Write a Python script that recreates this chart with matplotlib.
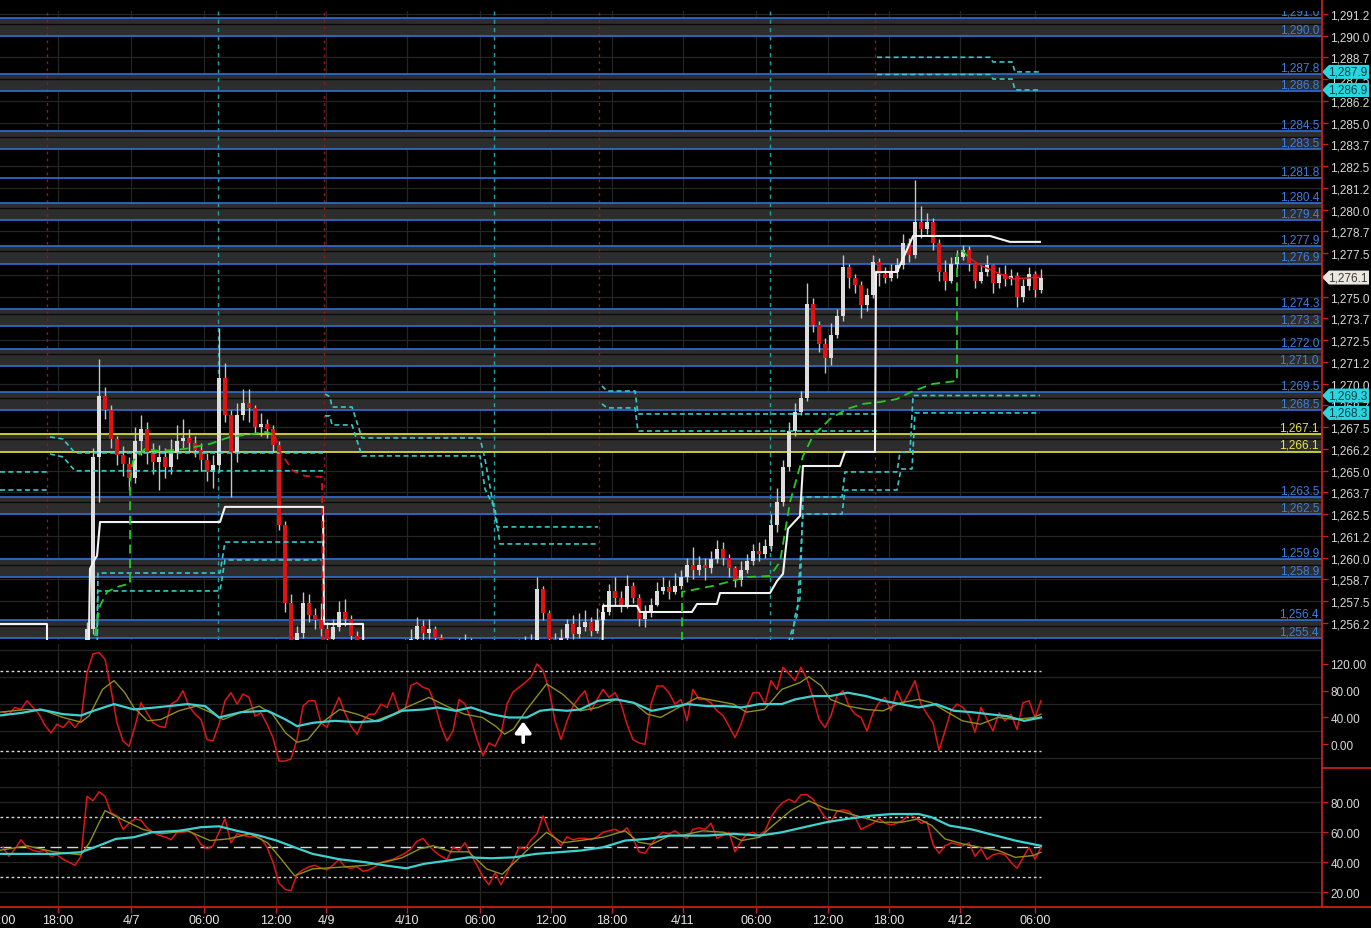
import numpy as np
import matplotlib
matplotlib.use("Agg")
import matplotlib.pyplot as plt
from matplotlib import transforms
from matplotlib.lines import Line2D
from matplotlib.patches import Polygon

plt.rcParams['font.family'] = ['Liberation Sans', 'DejaVu Sans']

# ---------------- price bars (30 min) ----------------
open_first = 1253.0
closes = [1253.2, 1253.5, 1253.1, 1252.8, 1253.0, 1253.4, 1253.6, 1253.2, 1252.7, 1252.4,
          1252.9, 1253.3, 1253.0, 1253.6, 1255.9, 1265.8, 1269.3, 1268.5, 1266.8, 1265.9,
          1265.4, 1264.6, 1266.7, 1267.4, 1266.1, 1265.5, 1265.8, 1265.2, 1266.0, 1266.7,
          1266.9, 1266.6, 1266.2, 1265.6, 1264.9, 1265.3, 1270.3, 1268.2, 1266.0, 1268.2,
          1268.9, 1268.6, 1267.5, 1267.7, 1267.4, 1266.5, 1261.9, 1257.4, 1254.8, 1255.7,
          1257.4, 1256.7, 1256.4, 1255.9, 1255.3, 1256.0, 1256.9, 1256.5, 1255.5, 1255.0,
          1254.4, 1254.1, 1253.8, 1254.0, 1254.3, 1254.6, 1254.2, 1254.9, 1255.3, 1256.1,
          1255.7, 1255.9, 1255.4, 1254.8, 1254.5, 1254.7, 1254.9, 1255.2, 1254.8, 1254.4,
          1254.0, 1253.7, 1253.5, 1253.9, 1254.2, 1254.6, 1254.9, 1255.1, 1255.0, 1258.2,
          1256.8, 1255.3, 1255.1, 1255.4, 1256.2, 1255.6, 1256.0, 1256.3, 1255.8, 1256.4,
          1256.9, 1258.1, 1257.7, 1257.3, 1258.4, 1257.7, 1256.5, 1256.9, 1257.3, 1258.1,
          1258.3, 1258.0, 1258.4, 1258.9, 1259.6, 1259.3, 1259.6, 1259.4, 1259.9, 1260.5,
          1260.0, 1259.4, 1258.7, 1259.3, 1259.8, 1260.4, 1260.2, 1260.7, 1261.9, 1263.2,
          1265.2, 1267.3, 1268.4, 1269.2, 1274.6, 1273.4, 1272.3, 1271.5, 1272.8, 1273.9,
          1276.7, 1276.1, 1275.7, 1274.5, 1275.1, 1277.0, 1276.3, 1276.1, 1276.4, 1276.8,
          1278.1, 1277.4, 1279.3, 1278.9, 1279.3, 1278.1, 1276.4, 1275.9, 1276.9, 1277.3,
          1277.7, 1276.9, 1275.9, 1276.4, 1276.8, 1275.8, 1276.3, 1276.0, 1276.2, 1275.0,
          1275.6, 1276.3, 1275.4, 1276.1]
highs = [1253.8, 1254.0, 1253.7, 1253.3, 1253.5, 1253.9, 1254.1, 1253.8, 1253.3, 1252.9,
         1253.4, 1253.8, 1253.6, 1254.0, 1256.3, 1266.3, 1271.4, 1269.8, 1268.8, 1267.0,
         1266.4, 1265.8, 1267.5, 1268.2, 1267.8, 1266.6, 1266.5, 1266.3, 1266.8, 1267.6,
         1268.0, 1267.4, 1267.0, 1266.6, 1266.0, 1265.9, 1273.2, 1271.2, 1268.5, 1268.9,
         1269.7, 1269.7, 1268.8, 1268.3, 1268.0, 1267.6, 1266.7, 1262.1, 1257.9, 1256.1,
         1258.0, 1257.9, 1257.1, 1257.4, 1256.3, 1256.5, 1257.5, 1257.6, 1256.7, 1255.8,
         1255.1, 1254.6, 1254.4, 1254.5, 1254.8, 1255.0, 1254.9, 1255.3, 1255.9, 1256.6,
         1256.4, 1256.5, 1256.1, 1255.6, 1255.0, 1255.2, 1255.4, 1255.6, 1255.4, 1255.0,
         1254.6, 1254.2, 1254.0, 1254.3, 1254.7, 1255.0, 1255.3, 1255.5, 1255.6, 1258.9,
         1258.4, 1257.0, 1255.7, 1255.9, 1256.5, 1256.7, 1256.8, 1257.0, 1256.6, 1257.1,
         1257.4, 1258.5, 1258.9, 1258.1, 1259.0, 1258.6, 1257.9, 1257.3, 1257.7, 1258.6,
         1258.9, 1258.7, 1259.1, 1259.3, 1260.0, 1260.6, 1260.1, 1260.0, 1260.4, 1261.0,
         1260.9, 1260.2, 1259.5, 1259.8, 1260.2, 1260.8, 1260.9, 1261.1, 1262.5, 1264.0,
         1265.6, 1267.8, 1268.9, 1269.6, 1275.8, 1274.9, 1273.6, 1272.6, 1273.5, 1274.3,
         1277.4, 1276.9, 1276.3, 1275.9, 1275.5, 1277.4, 1277.2, 1276.7, 1276.9, 1277.2,
         1278.6, 1278.4, 1281.7, 1280.2, 1279.8, 1279.5, 1278.3, 1277.1, 1277.3, 1277.7,
         1278.0, 1277.9, 1276.9, 1276.8, 1277.4, 1276.9, 1276.7, 1276.8, 1276.6, 1276.4,
         1276.0, 1276.7, 1276.5, 1276.6]
lows = [1252.6, 1253.0, 1252.7, 1252.3, 1252.5, 1252.9, 1253.2, 1252.8, 1252.2, 1251.9,
        1252.3, 1252.8, 1252.5, 1252.9, 1253.4, 1255.6, 1263.2, 1268.0, 1266.3, 1265.3,
        1264.7, 1263.9, 1264.3, 1265.9, 1265.4, 1264.8, 1263.9, 1264.6, 1264.8, 1265.7,
        1266.3, 1266.1, 1265.8, 1265.0, 1264.4, 1264.0, 1264.9, 1267.8, 1263.5, 1265.5,
        1267.9, 1267.8, 1267.1, 1267.0, 1266.9, 1266.1, 1261.6, 1256.9, 1254.2, 1254.5,
        1255.4, 1256.3, 1255.9, 1255.5, 1254.9, 1255.0, 1255.8, 1256.1, 1255.1, 1254.6,
        1253.9, 1253.6, 1253.3, 1253.5, 1253.8, 1254.1, 1253.7, 1254.2, 1254.7, 1255.0,
        1255.2, 1255.3, 1254.9, 1254.3, 1254.0, 1254.2, 1254.4, 1254.6, 1254.3, 1253.9,
        1253.5, 1253.2, 1253.0, 1253.4, 1253.7, 1254.1, 1254.4, 1254.6, 1254.5, 1254.8,
        1256.4, 1254.9, 1254.6, 1254.9, 1255.1, 1255.3, 1255.4, 1255.8, 1255.5, 1255.7,
        1256.2, 1256.7, 1257.3, 1256.9, 1257.1, 1257.4, 1256.1, 1256.0, 1256.6, 1257.2,
        1257.9, 1257.6, 1257.9, 1258.2, 1258.6, 1258.8, 1259.0, 1258.7, 1259.1, 1259.7,
        1259.6, 1258.9, 1258.3, 1258.4, 1259.1, 1259.6, 1259.8, 1260.0, 1260.4, 1261.5,
        1263.0, 1265.0, 1267.0, 1268.2, 1269.0, 1273.0, 1271.8, 1270.6, 1271.1, 1272.6,
        1273.6, 1275.5, 1275.2, 1273.8, 1274.2, 1274.9, 1275.6, 1275.8, 1275.9, 1276.1,
        1276.6, 1277.0, 1277.2, 1278.4, 1278.6, 1277.7, 1275.9, 1275.4, 1275.8, 1276.6,
        1277.1, 1276.5, 1275.5, 1275.8, 1276.2, 1275.2, 1275.5, 1275.6, 1275.7, 1274.4,
        1274.7, 1275.4, 1275.0, 1275.2]

# ---------------- horizontal levels ----------------
level_pairs = [(1291.0, 1290.0), (1287.8, 1286.8), (1284.5, 1283.5), (1280.4, 1279.4),
               (1277.9, 1276.9), (1274.3, 1273.3), (1272.0, 1271.0), (1269.5, 1268.5),
               (1267.1, 1266.1), (1263.5, 1262.5), (1259.9, 1258.9), (1256.4, 1255.4)]
single_levels = [1281.8]
yellow_levels = [1267.1, 1266.1]

# ---------------- overlay studies (bar index, price) ----------------
nan = np.nan
white_t = [-0.5, 7.33, 7.33, 14.17, 14.5, 15.33, 15.67, 16.17, 36.17, 37, 53.33, 53.5, 60, 60.17,
           99.83, 100, 105.67, 106.17, 114.83, 115.67, 119, 119.5, 127.83, 129, 130, 130.83,
           132.83, 133.33, 139.5, 140.33, 145.33, 145.5, 149, 151.67, 164.5, 166.17, 167.83, 172.83]
white_v = [1256.19, 1256.19, 1251.9, 1251.9, 1259.35, 1259.93, 1260.1, 1262.05, 1262.05, 1262.92,
           1262.92, 1256.19, 1256.19, 1251.9, 1251.9, 1257.23, 1257.23, 1256.88, 1256.88, 1257.34,
           1257.34, 1257.97, 1257.97, 1258.66, 1259.07, 1261.66, 1262.4, 1265.27, 1265.27, 1266.08,
           1266.08, 1276.42, 1276.42, 1278.49, 1278.49, 1278.32, 1278.15, 1278.15]

trail_up_t = [15.33, 15.67, 16.17, 17.33, 19, 20.83, 21.17, 21.17, 21.67, 23.67, 26.17, 30.33, 34.5,
              37.83, 44, 45.33, nan, 113.17, 113.17, 118.33, 124, 127.83, 129.5, 131.17, 133.33,
              135, 137.83, 140.67, 143.33, 146.17, 149, 151.67, 155, 159, 159, 160, 160.83]
trail_up_v = [1255.5, 1256.31, 1257.23, 1258.03, 1258.32, 1258.49, 1258.49, 1264.35, 1265.56,
              1266.25, 1266.13, 1266.25, 1266.54, 1266.94, 1267.23, 1267.0, nan, 1251.9, 1258.03,
              1258.38, 1258.89, 1258.95, 1259.76, 1263.2, 1265.85, 1267.0, 1267.97, 1268.55,
              1268.84, 1268.95, 1269.12, 1269.58, 1269.99, 1270.16, 1277.57, 1277.63, 1277.28]
trail_dn_t = [45.33, 46.17, 48.33, 50.33, 53.17, 53.33]
trail_dn_v = [1267.0, 1266.08, 1264.99, 1264.7, 1264.64, 1251.9]
trail_end_t = [160.83, 162.83, 166.17, 168.33, 172.83]
trail_end_v = [1277.28, 1276.82, 1276.31, 1276.02, 1276.13]

band_a_t = [-0.5, 7.33, nan, 7.83, 10, 12, 53.33, nan, 53.67, 54.5, 54.83, 58.17, 59.83, 79.5, 80.33,
            81.17, 82.33, 99.17, nan, 99.83, 100.67, 105.33, 105.83, 145.67, nan, 145.67, 164.5,
            165, 168.17, 168.67, 172.83]
band_a_v = [1264.93, 1264.93, nan, 1266.94, 1266.82, 1266.02, 1266.02, nan, 1269.41, 1269.24,
            1268.66, 1268.66, 1266.88, 1266.88, 1265.67, 1264.07, 1261.77, 1261.77, nan, 1269.87,
            1269.58, 1269.58, 1268.26, 1268.26, nan, 1288.76, 1288.76, 1288.49, 1288.49, 1287.92,
            1287.92]
band_b_t = [-0.5, 7.33, nan, 7.83, 10, 12, 53.33, nan, 53.67, 54.5, 54.83, 58.17, 59.83, 79.5, 80.33,
            82, 82.83, 99.17, nan, 99.83, 100.67, 105.33, 105.83, 145.67, nan, 145.67, 164.5,
            165, 168.17, 168.67, 172.83]
band_b_v = [1263.89, 1263.89, nan, 1265.96, 1265.79, 1264.99, 1264.99, nan, 1268.15, 1268.15,
            1267.63, 1267.63, 1265.85, 1265.85, 1263.95, 1262.8, 1260.79, 1260.79, nan, 1268.84,
            1268.61, 1268.61, 1267.28, 1267.28, nan, 1287.77, 1287.77, 1287.51, 1287.51, 1286.88,
            1286.88]
band_c_t = [15.67, 15.83, 36.17, 37, 53.33, nan, 131.17, 132, 132.83, 133.33, 139.83, 140.33, 149,
            149.5, 151.17, 151.67, 172.83]
band_c_v = [1255.5, 1259.12, 1259.12, 1260.9, 1260.9, nan, 1254.18, 1256.65, 1257.63, 1263.49,
            1263.49, 1264.93, 1264.93, 1266.08, 1266.08, 1269.32, 1269.32]
band_d_t = [15.67, 15.83, 36.17, 37, 53.33, nan, 130.5, 131.17, 132.33, 133.33, 139.83, 140.33, 149,
            149.67, 151.5, 152, 172.83]
band_d_v = [1254.18, 1258.09, 1258.09, 1259.87, 1259.87, nan, 1254.18, 1255.5, 1256.65, 1262.51,
            1262.51, 1263.89, 1263.89, 1265.1, 1265.1, 1268.32, 1268.32]

# ---------------- oscillators ----------------
cci_red = [48, 45, 55, 52, 65, 55, 45, 28, 17, 30, 25, 35, 25, 37, 107, 135, 137, 127, 82, 32,
           5, -3, 27, 62, 47, 32, 27, 25, 60, 65, 80, 57, 45, 37, 7, 5, 30, 65, 77, 60,
           75, 70, 42, 47, 30, 10, -25, -25, -22, 7, 57, 65, 65, 32, 25, 50, 70, 47, 27, 15,
           35, 45, 45, 60, 55, 77, 50, 52, 88, 92, 85, 82, 60, 27, 5, 20, 67, 60, 37, 7,
           -17, 2, -3, 15, 60, 78, 85, 92, 100, 120, 110, 82, 35, 7, 35, 57, 70, 80, 50, 67,
           82, 70, 77, 60, 30, 7, 2, 0, 60, 87, 87, 77, 60, 67, 35, 82, 67, 67, 62, 50,
           43, 27, 10, 30, 57, 77, 77, 60, 95, 82, 115, 105, 95, 115, 97, 70, 37, 25, 43, 72,
           80, 57, 45, 40, 20, 47, 62, 70, 50, 80, 60, 77, 95, 60, 45, 32, -9, 20, 50, 60,
           55, 43, 18, 55, 37, 20, 47, 35, 45, 22, 62, 65, 40, 65]
cci_sig_t = [-0.5, 4, 7, 10, 13, 14.4, 16.6, 18.5, 20.3, 21.8, 24.1, 26.3, 29.3, 32.2, 34.5, 36.7,
             39.7, 42.7, 44.9, 47.1, 49, 50.8, 53.1, 56.1, 59, 62, 65, 67.2, 71, 73.9, 76.9, 79.9,
             82.1, 83.6, 85.1, 87.3, 90.6, 93.25, 96.2, 99.2, 102.2, 105.1, 107.4, 109.6, 112.6,
             115.8, 118.7, 121.7, 123.9, 126.9, 129.8, 132.8, 134.3, 136.4, 137.9, 140.8, 143.8,
             146.7, 149.6, 152.6, 154.8, 157, 159.9, 162.9, 165.8, 168.7, 171.7, 173]
cci_sig = [48, 52, 50, 40, 33, 43, 82, 95, 77, 55, 35, 37, 50, 57, 48, 37, 48, 57, 45, 17, 3, 7,
           32, 52, 45, 35, 45, 55, 70, 57, 45, 40, 27, 15, 23, 52, 90, 75, 50, 55, 67, 62, 45, 40,
           55, 70, 65, 60, 48, 52, 82, 92, 101, 87, 67, 57, 52, 50, 62, 67, 62, 50, 35, 30, 40,
           37, 40, 45]
cci_slow_t = [-0.5, 3.2, 6.2, 10, 13, 15.1, 18.5, 21.8, 25.5, 30.75, 33.7, 36, 39.7, 44.1, 47.1,
              49, 51.6, 55.3, 59, 62.7, 66.5, 70.2, 72.4, 75.4, 78, 81.3, 84.3, 87.3, 89.5, 91.4,
              94, 96.2, 99.2, 102.2, 105.1, 108.1, 111.1, 114.1, 117.3, 120.2, 123.1, 126.1,
              129.8, 132, 135, 137.9, 140.8, 143.8, 146.7, 149.6, 152.6, 155.5, 158.5, 161.4,
              164.3, 167.3, 170.2, 173]
cci_slow = [43, 47, 52, 45, 43, 50, 60, 52, 55, 60, 57, 40, 48, 50, 37, 27, 32, 35, 33, 35, 50,
            52, 55, 50, 55, 45, 40, 40, 50, 52, 50, 52, 65, 67, 62, 50, 55, 60, 57, 57, 55, 60,
            60, 67, 72, 72, 77, 72, 65, 60, 55, 60, 50, 48, 45, 42, 35, 40]
cci_levels = [109, -10.5]

rsi_red = [50, 44, 49, 55, 50, 48, 47, 48, 44, 45, 42, 40, 38, 44, 84, 81, 87, 84, 73, 71,
           62, 66, 69, 68, 63, 60, 58, 57, 55, 60, 60, 61, 58, 52, 49, 51, 60, 69, 53, 59,
           58, 57, 57, 56, 50, 40, 26, 22, 21, 32, 35, 37, 38, 36, 35, 38, 42, 37, 36, 37,
           34, 35, 37, 40, 41, 42, 44, 46, 49, 54, 56, 51, 47, 44, 42, 50, 48, 53, 45, 38,
           30, 25, 33, 25, 33, 41, 50, 49, 55, 59, 71, 61, 56, 51, 57, 55, 56, 56, 55, 57,
           60, 61, 62, 60, 63, 56, 47, 46, 52, 57, 60, 59, 61, 58, 56, 62, 63, 62, 66, 56,
           58, 60, 47, 54, 59, 60, 58, 61, 70, 76, 80, 82, 80, 85, 85, 82, 76, 70, 67, 74,
           75, 74, 70, 62, 64, 66, 69, 66, 65, 66, 68, 72, 70, 66, 67, 52, 46, 51, 53, 52,
           51, 53, 44, 49, 42, 45, 46, 45, 40, 36, 43, 50, 42, 50]
rsi_sig_t = [-0.5, 4, 8.4, 13, 14.4, 17, 19.6, 23.3, 26.3, 30.75, 34.5, 37.5, 41.2, 44.1, 46.4,
             48.6, 51.6, 56.1, 60.5, 63.5, 66.5, 69.5, 71.7, 74.7, 77.6, 80.6, 83.2, 85.8, 88.1,
             90.6, 93.25, 96.2, 100, 103.7, 105.9, 108.1, 111.1, 113, 116.6, 120.2, 123.1, 126.1,
             128.3, 131.3, 134.3, 137.2, 140.2, 143.2, 146.1, 149.8, 152.6, 154.8, 157, 160,
             162.9, 165.8, 168.7, 171.7, 173]
rsi_sig = [48, 51, 47, 45, 53, 74.5, 69, 62, 59, 61, 54.5, 55.6, 59, 53, 42, 31, 35.6, 36.7, 38,
           40, 43, 49, 51, 47, 47, 35.6, 32, 42, 51, 60, 53, 54.5, 56.7, 61, 53.4, 52, 57.8, 57.8,
           61, 60, 54.5, 56.7, 64.5, 74.5, 81, 75.6, 73.4, 70, 66.7, 66.7, 69, 64.5, 55.6, 52.2,
           50, 48, 43.3, 44.5, 46.7]
rsi_slow_t = [-0.5, 4, 8.4, 13, 15.9, 18.8, 21.8, 24.8, 29.3, 33, 36, 39, 42.7, 45.6, 48.6, 51.6,
              56.1, 60.5, 63.5, 67.2, 70.2, 73.9, 77.6, 81.3, 85.1, 88.8, 92.5, 96.2, 100, 103.7,
              107.4, 111.1, 117.3, 121.7, 126.1, 129.8, 133.5, 137.2, 140.8, 144.5, 148.2, 152.6,
              154.8, 157.7, 161.4, 164.3, 168.7, 173]
rsi_slow = [45.6, 45.6, 45.6, 46.7, 51, 55.6, 56.7, 60, 61, 63.4, 64, 61, 57.8, 54.5, 50, 45.6,
            42, 40, 38, 36, 39, 41, 43.3, 42.7, 43.3, 45.6, 46.7, 47.8, 50, 54.5, 55.6, 57.8,
            57.8, 59, 57.8, 60, 63.4, 66.7, 69, 71, 72.2, 72.2, 70, 64.5, 62, 59, 54.5, 51]
rsi_levels = [70, 30]
rsi_mid = 50
arrow_bar, arrow_from, arrow_to = 86.7, 3, 34

# ---------------- time axis ----------------
xtick_pos = [-0.5, 9.17, 21.33, 33.5, 45.5, 53.83, 67.33, 79.5, 91.33, 101.5, 113.33, 125.5,
             137.5, 147.67, 159.5, 172]
xtick_lab = ['12:00', '18:00', '4/7', '06:00', '12:00', '4/9', '4/10', '06:00', '12:00', '18:00',
             '4/11', '06:00', '12:00', '18:00', '4/12', '06:00']
session_red = [7.33, 53.5, 99.33, 145.33]
session_cyan = [35.83, 81.83, 127.83]

# ---------------- styling ----------------
BLUE = '#2f6fd2'
BLUE_TXT = '#3d7fe0'
YELLOW = '#e8e83a'
CYAN = '#33c9c9'
AXRED = '#c81e1e'
GRID = '#242424'
TXT = '#d9d9d9'
FS = 8.5

W, H = 1371, 929
fig = plt.figure(figsize=(W / 100, H / 100), dpi=100, facecolor='black')


def frame(top, bottom):
    return [0, 1 - bottom / H, 1322 / W, (bottom - top) / H]


ax = fig.add_axes(frame(12, 641))
ax2 = fig.add_axes(frame(645, 768))
ax3 = fig.add_axes(frame(770, 908))
n = len(closes)
bars = np.arange(n)
xmax = (1322 - 3) / 6
inside = [p for p in xtick_pos if p > -0.5]

for a in (ax, ax2, ax3):
    a.set_facecolor('black')
    for s in a.spines.values():
        s.set_visible(False)
    a.set_xlim(-0.5, xmax)
    a.set_xticks(inside)
    a.tick_params(axis='x', bottom=False, labelbottom=False)
    a.yaxis.tick_right()
    a.tick_params(axis='y', length=4, width=1, color=AXRED, labelcolor=TXT, labelsize=FS, pad=2)
    for p in inside:
        a.axvline(p, color=GRID, lw=0.9, zorder=0.3)
ax3.tick_params(axis='x', bottom=True, length=4, width=1, color=AXRED, direction='out')

# ---------------- main price panel ----------------
ax.set_ylim(1255.27, 1291.42)
main_ticks = np.arange(1256.25, 1291.3, 1.25)
ax.set_yticks(main_ticks)
ax.set_yticklabels([f"{np.floor(v * 10 + 1e-6) / 10:,.1f}" for v in main_ticks])
for v in main_ticks:
    ax.axhline(v, color=GRID, lw=0.9, zorder=0.3)

for hi, lo in level_pairs:
    ax.axhspan(lo, hi, color='#2d2d2d', lw=0, zorder=0.5)
    ax.axhline(hi - 0.3 * (hi - lo), color='#0a0a0a', lw=1, zorder=0.6)

lab_tr = transforms.blended_transform_factory(ax.transAxes, ax.transData)
all_levels = [v for pr in level_pairs for v in pr] + single_levels
for v in all_levels:
    col = YELLOW if v in yellow_levels else BLUE
    tcol = YELLOW if v in yellow_levels else BLUE_TXT
    ax.axhline(v, color=col, lw=1.2, zorder=1)
    ax.text(1319 / 1322, v + 0.04, f"{v:,.1f}", transform=lab_tr, ha='right', va='bottom',
            color=tcol, fontsize=FS, zorder=1.2, clip_on=True)

for p in session_red:
    ax.axvline(p, color='#951818', lw=1, ls=(0, (2, 3)), zorder=0.8)
for p in session_cyan:
    ax.axvline(p, color='#22a3a3', lw=1, ls=(0, (3, 3)), zorder=0.8)

c = np.array(closes)
o = np.r_[open_first, c[:-1]]
hi_ = np.maximum(np.array(highs), np.maximum(o, c))
lo_ = np.minimum(np.array(lows), np.minimum(o, c))
up = c >= o
body = np.maximum(np.abs(c - o), 0.07)
ax.vlines(bars, lo_, hi_, color='#c4c4c4', lw=1, zorder=3)
ax.bar(bars[up], body[up], bottom=np.minimum(o, c)[up], width=0.62, color='#dcdcdc', lw=0, zorder=4)
ax.bar(bars[~up], body[~up], bottom=np.minimum(o, c)[~up], width=0.62, color='#e01212', lw=0, zorder=4)

dash = (0, (3, 2))
for t, v in ((band_a_t, band_a_v), (band_b_t, band_b_v), (band_c_t, band_c_v), (band_d_t, band_d_v)):
    ax.plot(t, v, color=CYAN, lw=1.2, ls=dash, zorder=5)
ax.plot(white_t, white_v, color='#f2f2f2', lw=1.5, zorder=5)
ax.plot(trail_up_t, trail_up_v, color='#22cc22', lw=1.3, ls=(0, (5, 3)), zorder=5.5)
ax.plot(trail_dn_t, trail_dn_v, color='#d01818', lw=1.3, ls=(0, (4, 3)), zorder=5.5)
ax.plot(trail_end_t, trail_end_v, color='#d02020', lw=1.1, zorder=5.5)


def flag(axis, value, fc, tc, half):
    tr = transforms.blended_transform_factory(axis.transAxes, axis.transData)
    x0, x1, x2 = 1.0, 1 + 7 / 1322, 1 + 47 / 1322
    pts = [(x0, value), (x1, value + half), (x2, value + half), (x2, value - half), (x1, value - half)]
    axis.add_patch(Polygon(pts, closed=True, transform=tr, fc=fc, ec='none', zorder=20, clip_on=False))
    axis.text(1 + 6 / 1322, value, f"{value:,.1f}", transform=tr, ha='left', va='center',
              color=tc, fontsize=FS, zorder=21, clip_on=False)


half = 7 * (1291.42 - 1255.27) / 629
for v in (band_a_v[-1], band_b_v[-1], band_c_v[-1], band_d_v[-1]):
    flag(ax, v, '#27d6de', '#0c3c48', half)
flag(ax, closes[-1], '#ebe7df', '#3a3a3a', half)

# ---------------- oscillator 1 ----------------
ax2.set_ylim(-33.9, 149.7)
ax2.set_yticks([0, 40, 80, 120])
ax2.set_yticklabels([f"{v:.2f}" for v in (0, 40, 80, 120)])
for v in (-20, 20, 60, 100, 140):
    ax2.axhline(v, color=GRID, lw=0.9, zorder=0.3)
for v in cci_levels:
    ax2.hlines(v, -0.5, bars[-1], colors='#d6d6d6', lw=1, linestyles=(0, (2, 2)), zorder=1)
ax2.plot(bars, cci_red, color='#e01515', lw=1.1, zorder=3)
ax2.plot(cci_sig_t, cci_sig, color='#8f8f1e', lw=1.0, zorder=4)
ax2.plot(cci_slow_t, cci_slow, color='#3fd0d0', lw=1.6, zorder=5)
ax2.annotate('', xy=(arrow_bar, arrow_to), xytext=(arrow_bar, arrow_from),
             arrowprops=dict(arrowstyle='-|>,head_width=0.4,head_length=0.55', color='white',
                             lw=2.6, mutation_scale=12, shrinkA=0, shrinkB=0), zorder=6)

# ---------------- oscillator 2 ----------------
ax3.set_ylim(10.2, 102.2)
ax3.set_yticks([20, 40, 60, 80])
ax3.set_yticklabels([f"{v:.2f}" for v in (20, 40, 60, 80)])
for v in (20, 40, 60, 80, 90):
    ax3.axhline(v, color=GRID, lw=0.9, zorder=0.3)
for v in rsi_levels:
    ax3.hlines(v, -0.5, bars[-1], colors='#d6d6d6', lw=1, linestyles=(0, (2, 2)), zorder=1)
ax3.hlines(rsi_mid, -0.5, bars[-1], colors='#d6d6d6', lw=1, linestyles=(0, (8, 4)), zorder=1)
ax3.plot(bars, rsi_red, color='#e01515', lw=1.1, zorder=3)
ax3.plot(rsi_sig_t, rsi_sig, color='#8f8f1e', lw=1.0, zorder=4)
ax3.plot(rsi_slow_t, rsi_slow, color='#3fd0d0', lw=1.6, zorder=5)

xl_tr = transforms.blended_transform_factory(ax3.transData, ax3.transAxes)
for p, lab in zip(xtick_pos, xtick_lab):
    ax3.text(p, -13.5 / 138, lab, transform=xl_tr, ha='center', va='center', color='#e6e6e6',
             fontsize=9, clip_on=False)

# ---------------- frame lines ----------------
def fline(x0, y0, x1, y1):
    fig.add_artist(Line2D([x0 / W, x1 / W], [1 - y0 / H, 1 - y1 / H], transform=fig.transFigure,
                          color=AXRED, lw=1.3))


fline(1322, 0, 1322, 908)
fline(0, 908, W, 908)
fline(1322, 769, W, 769)

fig.savefig('out.png', dpi=100, facecolor='black')
